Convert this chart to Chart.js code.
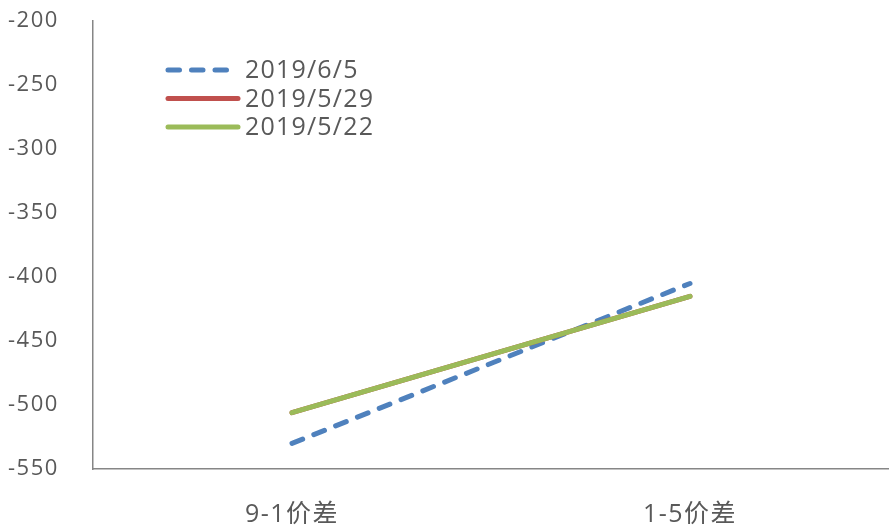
<!DOCTYPE html>
<html>
<head>
<meta charset="utf-8">
<script src="https://cdn.jsdelivr.net/npm/chart.js@4.4.1/dist/chart.umd.min.js"></script>
<style>
  html, body { margin: 0; padding: 0; background: #ffffff; }
  #wrap { width: 889px; height: 525px; position: relative; }
</style>
</head>
<body>
<div id="wrap"><canvas id="c" width="889" height="525"></canvas></div>
<script>
// Spread categories and series values
const categories = ['9-1价差', '1-5价差'];
const seriesLabels = ['2019/6/5', '2019/5/29', '2019/5/22'];
const values0605 = [-530, -405];
const values0529 = [-506, -415];
const values0522 = [-506, -415];
const yTicks = [-550, -500, -450, -400, -350, -300, -250, -200];

const FONT = "'Open Sans', 'Noto Sans CJK SC', sans-serif";
const TEXT = '#595959';

// Wider tracking for all axis text
const tracking = {
  id: 'tracking',
  beforeDraw(chart) { chart.ctx.letterSpacing = '1.5px'; }
};

// Legend drawn inside the plot area, top-left
const insideLegend = {
  id: 'insideLegend',
  afterDatasetsDraw(chart) {
    const ctx = chart.ctx;
    const x0 = 168, x1 = 238, tx = 245, y0 = 70, step = 28.5;
    ctx.save();
    chart.data.datasets.forEach((ds, i) => {
      const y = y0 + i * step;
      ctx.beginPath();
      ctx.lineWidth = ds.borderWidth;
      ctx.strokeStyle = ds.borderColor;
      ctx.lineCap = 'round';
      ctx.setLineDash(ds.borderDash || []);
      ctx.moveTo(x0, y);
      ctx.lineTo(x1, y);
      ctx.stroke();
      ctx.setLineDash([]);
      ctx.fillStyle = TEXT;
      ctx.font = '25px ' + FONT;
      ctx.letterSpacing = '1.2px';
      ctx.textAlign = 'left';
      ctx.textBaseline = 'middle';
      ctx.fillText(ds.label, tx, y + 1);
    });
    ctx.restore();
  }
};

new Chart(document.getElementById('c'), {
  type: 'line',
  data: {
    labels: categories,
    datasets: [
      { label: seriesLabels[0], data: values0605, borderColor: '#4F81BD', borderWidth: 5,
        borderDash: [11.5, 12], borderCapStyle: 'round', pointRadius: 0, order: 2 },
      { label: seriesLabels[1], data: values0529, borderColor: '#C0504D', borderWidth: 5,
        borderCapStyle: 'round', pointRadius: 0, order: 1 },
      { label: seriesLabels[2], data: values0522, borderColor: '#9BBB59', borderWidth: 5,
        borderCapStyle: 'round', pointRadius: 0, order: 0 }
    ]
  },
  options: {
    responsive: false,
    animation: false,
    devicePixelRatio: 1,
    layout: { padding: { left: 8, top: 20, right: 0, bottom: 0 } },
    plugins: { legend: { display: false }, tooltip: { enabled: false } },
    scales: {
      x: {
        offset: true,
        grid: { display: false },
        border: { display: true, color: '#868686', width: 1.5 },
        ticks: { color: TEXT, font: { family: FONT, size: 25 }, padding: 23 },
        afterFit(s) { s.height = 56; }
      },
      y: {
        min: -550, max: -200,
        grid: { display: false },
        border: { display: true, color: '#868686', width: 1.5 },
        afterBuildTicks(s) { s.ticks = yTicks.map(v => ({ value: v })); },
        ticks: { color: TEXT, font: { family: FONT, size: 22 }, crossAlign: 'far', padding: 8 },
        afterFit(s) { s.width = 85; }
      }
    }
  },
  plugins: [tracking, insideLegend]
});
</script>
</body>
</html>
